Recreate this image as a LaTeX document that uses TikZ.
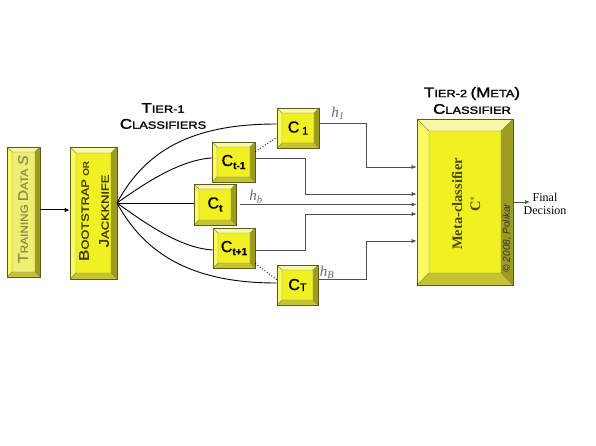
\documentclass[tikz,border=0pt]{standalone}
\usepackage{fontspec}
\setmainfont{Liberation Serif}
\setsansfont{Liberation Sans}
\newfontfamily\cop[FakeStretch=1.22,FakeBold=1.6]{Liberation Sans}
\newfontfamily\copn[FakeStretch=1.12,FakeBold=0.8]{Liberation Sans}
\newfontfamily\clsf[FakeBold=0.8]{Liberation Sans}
\usetikzlibrary{arrows.meta}
\definecolor{facec}{HTML}{F0F022}
\definecolor{facepale}{HTML}{EEEE72}
\definecolor{topc}{HTML}{F8F8A8}
\definecolor{leftc}{HTML}{FAFA66}
\definecolor{rightc}{HTML}{9C9C1E}
\definecolor{botc}{HTML}{C4C432}
\definecolor{edgec}{HTML}{5C5C18}
\definecolor{wirec}{HTML}{505050}
\definecolor{tdc}{HTML}{8C8C50}
\definecolor{bsc}{HTML}{3C3C00}
\definecolor{metac}{HTML}{4C4C00}
\definecolor{hc}{HTML}{6A6A6A}
\newcommand\scx[2]{{\fontsize{14}{14}\selectfont#1}{\fontsize{10.5}{10.5}\selectfont#2}}
\newcommand\csub[1]{{\fontsize{16}{16}\selectfont C}\raisebox{-3pt}{\fontsize{10}{10}\selectfont\bfseries #1}}
\begin{document}
\begin{tikzpicture}[x=1pt,y=-1pt,
  bev/.style={draw=edgec, line width=0.7pt, fill=facec, inner sep=0pt,
    path picture={
      \coordinate (bvnw) at (path picture bounding box.north west);
      \coordinate (bvne) at (path picture bounding box.north east);
      \coordinate (bvse) at (path picture bounding box.south east);
      \coordinate (bvsw) at (path picture bounding box.south west);
      \coordinate (bvinw) at ([xshift=#1,yshift=-#1]bvnw);
      \coordinate (bvine) at ([xshift=-#1,yshift=-#1]bvne);
      \coordinate (bvise) at ([xshift=-#1,yshift=#1]bvse);
      \coordinate (bvisw) at ([xshift=#1,yshift=#1]bvsw);
      \fill[topc] (bvnw)--(bvne)--(bvine)--(bvinw)--cycle;
      \fill[leftc] (bvnw)--(bvinw)--(bvisw)--(bvsw)--cycle;
      \fill[rightc] (bvne)--(bvse)--(bvise)--(bvine)--cycle;
      \fill[botc] (bvsw)--(bvisw)--(bvise)--(bvse)--cycle;
      \draw[edgec!70, line width=0.4pt] (bvinw) rectangle (bvise)
        (bvnw)--(bvinw) (bvne)--(bvine) (bvse)--(bvise) (bvsw)--(bvisw);
    }},
  fan/.style={draw=black, line width=0.9pt},
  wire/.style={draw=wirec, line width=0.7pt},
  arr/.style={wire, -{Latex[length=5pt,width=4pt]}},
  dots/.style={draw=black, line width=0.9pt, dotted},
  hlab/.style={text=hc, font=\fontsize{15}{15}\selectfont\itshape, inner sep=0pt},
  cls/.style={bev=5pt, font=\clsf}
]
\useasboundingbox (0,0) rectangle (596,446);
\fill[white] (0,0) rectangle (596,446);

% boxes
\node[bev=5pt, fill=facepale, minimum width=33pt, minimum height=130pt] (train) at (23.5,212) {};
\node[bev=6pt, minimum width=47pt, minimum height=132pt] (boot) at (93.5,213) {};
\node[cls, minimum width=42pt, minimum height=40pt] (c1) at (298,128)
  {{\fontsize{16}{16}\selectfont C\,}\raisebox{-2pt}{\fontsize{11}{11}\selectfont 1}};
\node[cls, minimum width=43pt, minimum height=40pt] (cm1) at (233.5,162) {\csub{t-1}};
\node[cls, minimum width=42pt, minimum height=41pt] (ct) at (215,204.5) {\csub{t}};
\node[cls, minimum width=42pt, minimum height=40pt] (cp1) at (234,248) {\csub{t+1}};
\node[cls, minimum width=41pt, minimum height=40pt] (cT) at (297.5,285)
  {{\fontsize{16}{16}\selectfont C}\raisebox{-1pt}{\fontsize{11}{11}\selectfont T}};
\node[bev=12pt, minimum width=96pt, minimum height=166pt] (meta) at (465,202) {};

% texts in tall boxes
\node[rotate=90, text=tdc, font=\copn, inner sep=0pt] (traintxt) at (23,209)
  {\scx{T}{RAINING} \scx{D}{ATA} {\fontsize{14}{14}\selectfont\itshape S}};
\node[rotate=90, text=bsc, font=\cop, inner sep=0pt, align=center] (boottxt) at (94,211)
  {\scx{B}{OOTSTRAP} {\fontsize{8}{8}\selectfont OR}\\[8pt]\scx{J}{ACKKNIFE}};
\node[rotate=90, text=metac, font=\fontsize{14.5}{18}\selectfont\bfseries, align=center, inner sep=0pt]
  (metatxt) at (466,204) {Meta-classifier\\C$^{*}$};
\node[rotate=90, text=black!80, font=\fontsize{10}{10}\selectfont\sffamily\itshape, inner sep=0pt]
  (copy) at (507,238) {\textcopyright\ 2008, Polikar};

% headings
\node[font=\cop, align=center, inner sep=0pt] (tier1) at (163,116)
  {\scx{T}{IER-1}\\[4pt]\scx{C}{LASSIFIERS}};
\node[font=\cop, align=center, inner sep=0pt] (tier2) at (472,100.5)
  {\scx{T}{IER-2} \scx{(M}{ETA}\scx{)}{}\\[3pt]\scx{C}{LASSIFIER}};

% training -> bootstrap
\draw[line width=1pt, -{Latex[length=5pt,width=4.5pt]}] (train.east |- 0,210) coordinate (tr) -- (tr -| boot.west);

% fan
\coordinate (fo) at (117,203);
\draw[fan] (fo) .. controls (148,145) and (200,124) .. ([yshift=4pt]c1.west);
\draw[fan] (fo) .. controls (145,183) and (180,160) .. ([yshift=4pt]cm1.west);
\draw[fan] (fo) -- (ct.west |- fo);
\draw[fan] (fo) .. controls (145,223) and (180,248) .. ([yshift=-2pt]cp1.west);
\draw[fan] (fo) .. controls (148,260) and (200,283) .. ([yshift=2pt]cT.west);

% dotted links
\draw[dots] ([yshift=-10pt]cm1.north east) -- ([yshift=11pt]c1.south west);
\draw[dots] ([yshift=5pt]cp1.south east) -- ([yshift=-15pt]cT.north west);

% outputs
\draw[arr] ([yshift=5pt]c1.east) -| (366,167) -- (meta.west |- 0,167);
\draw[arr] ([yshift=4pt]cm1.east) -| (305,194) -- (meta.west |- 0,194);
\draw[arr] ([xshift=4pt]ct.east) -- (meta.west |- ct.east);
\draw[arr] ([yshift=-2pt]cp1.east) -| (305,214) -- (meta.west |- 0,214);
\draw[arr] ([yshift=6pt]cT.east) -| (366,241) -- (meta.west |- 0,241);

% labels
\node[hlab] (h1) at (338,113) {h\textsubscript{1}};
\node[hlab] (hb) at (256,197) {h\textsubscript{b}};
\node[hlab] (hB) at (327,272) {h\textsubscript{B}};

% final decision
\node[font=\fontsize{12}{13}\selectfont, align=center, inner sep=0pt] (fd) at (545,204) {Final\\Decision};
\coordinate (fdin) at (530,202);
\draw[wire, -{Latex[length=5pt,width=4pt]}] (meta.east |- fdin) -- (fdin);
\end{tikzpicture}
\end{document}
